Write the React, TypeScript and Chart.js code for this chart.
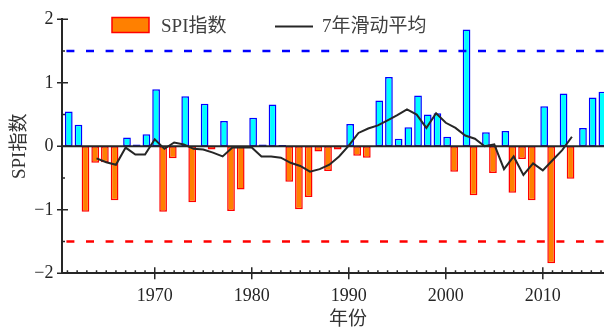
import React, { useEffect, useRef } from 'react';
import { Chart, registerables } from 'chart.js';

Chart.register(...registerables);

const years = [
  1961, 1962, 1963, 1964, 1965, 1966, 1967, 1968, 1969, 1970,
  1971, 1972, 1973, 1974, 1975, 1976, 1977, 1978, 1979, 1980,
  1981, 1982, 1983, 1984, 1985, 1986, 1987, 1988, 1989, 1990,
  1991, 1992, 1993, 1994, 1995, 1996, 1997, 1998, 1999, 2000,
  2001, 2002, 2003, 2004, 2005, 2006, 2007, 2008, 2009, 2010,
  2011, 2012, 2013, 2014, 2015, 2016,
];
const spiValues = [
  0.55, 0.34, -1.03, -0.26, -0.25, -0.85, 0.14, 0.03, 0.19, 0.90,
  -1.03, -0.19, 0.79, -0.88, 0.67, -0.05, 0.40, -1.02, -0.68, 0.45,
  0.03, 0.66, 0.02, -0.56, -0.99, -0.80, -0.08, -0.39, -0.05, 0.35,
  -0.15, -0.18, 0.72, 1.09, 0.12, 0.30, 0.80, 0.50, 0.52, 0.15,
  -0.40, 1.84, -0.77, 0.22, -0.42, 0.24, -0.73, -0.20, -0.85, 0.63,
  -1.84, 0.83, -0.51, 0.29, 0.77, 0.86,
];
const maYears = [
  1964, 1965, 1966, 1967, 1968, 1969, 1970, 1971, 1972, 1973,
  1974, 1975, 1976, 1977, 1978, 1979, 1980, 1981, 1982, 1983,
  1984, 1985, 1986, 1987, 1988, 1989, 1990, 1991, 1992, 1993,
  1994, 1995, 1996, 1997, 1998, 1999, 2000, 2001, 2002, 2003,
  2004, 2005, 2006, 2007, 2008, 2009, 2010, 2011, 2012, 2013,
];
const maValues = [
  -0.19, -0.25, -0.29, -0.02, -0.13, -0.13, 0.11, -0.04, 0.06, 0.03,
  -0.04, -0.05, -0.10, -0.16, -0.02, -0.02, -0.02, -0.16, -0.16, -0.18,
  -0.26, -0.31, -0.40, -0.36, -0.29, -0.16, 0.01, 0.21, 0.28, 0.33,
  0.41, 0.49, 0.58, 0.50, 0.29, 0.52, 0.37, 0.29, 0.17, 0.12,
  0.00, 0.03, -0.36, -0.16, -0.45, -0.27, -0.38, -0.22, -0.06, 0.15,
];
const xMajorTicks = [1970, 1980, 1990, 2000, 2010];
const yMajorTicks = [-2, -1, 0, 1, 2];
const yMinorTicks = [-1.5, -0.5, 0.5, 1.5];
const thresholdWet = 1.5;
const thresholdDry = -1.5;
const xMin = 1960.44;
const xMax = 2019.4;
const yMin = -2;
const yMax = 2;
const legendLabels = ['SPI指数', '7年滑动平均'];
const xTitle = '年份';
const yTitle = 'SPI指数';

const FONT_FAMILY = '"Liberation Serif", "Noto Sans CJK SC", serif';
const AXIS_COLOR = '#262626';
const ORANGE = '#FF8000';
const RED = '#FF0000';
const CYAN = '#00FFFF';
const BLUE = '#0000FF';

const decorPlugin = {
  id: 'decor',
  beforeDraw(chart: any) {
    const { ctx, width, height } = chart;
    ctx.save();
    ctx.fillStyle = '#ffffff';
    ctx.fillRect(0, 0, width, height);
    ctx.restore();
  },
  afterDraw(chart: any) {
    const { ctx, chartArea: a, scales } = chart;
    const xs = scales.x;
    const ys = scales.y;
    ctx.save();
    ctx.strokeStyle = AXIS_COLOR;
    ctx.lineWidth = 1.5;
    ctx.beginPath();
    for (const v of yMajorTicks) {
      const p = ys.getPixelForValue(v);
      ctx.moveTo(a.left - 5, p);
      ctx.lineTo(a.left + 6, p);
    }
    for (const v of yMinorTicks) {
      const p = ys.getPixelForValue(v);
      ctx.moveTo(a.left, p);
      ctx.lineTo(a.left + 3, p);
    }
    for (let yr = Math.ceil(xMin); yr <= Math.floor(xMax); yr++) {
      const p = xs.getPixelForValue(yr);
      ctx.moveTo(p, a.bottom);
      ctx.lineTo(p, a.bottom - 3);
    }
    for (const v of xMajorTicks) {
      const p = xs.getPixelForValue(v);
      ctx.moveTo(p, a.bottom + 6);
      ctx.lineTo(p, a.bottom - 6);
    }
    ctx.stroke();

    // legend
    ctx.fillStyle = ORANGE;
    ctx.strokeStyle = RED;
    ctx.lineWidth = 1.5;
    ctx.fillRect(112, 17.5, 37, 15);
    ctx.strokeRect(112, 17.5, 37, 15);
    ctx.font = `19px ${FONT_FAMILY}`;
    ctx.fillStyle = '#404040';
    ctx.textBaseline = 'middle';
    ctx.textAlign = 'left';
    ctx.fillText(legendLabels[0], 161, 27);
    ctx.strokeStyle = AXIS_COLOR;
    ctx.lineWidth = 2;
    ctx.beginPath();
    ctx.moveTo(275, 26.5);
    ctx.lineTo(313, 26.5);
    ctx.stroke();
    ctx.fillText(legendLabels[1], 322, 27);
    ctx.restore();
  },
};

export default function App() {
  const canvasRef = useRef<HTMLCanvasElement | null>(null);

  useEffect(() => {
    const canvas = canvasRef.current;
    if (!canvas) return;

    const negData = years.map((yr, i) => ({ x: yr, y: spiValues[i] < 0 ? spiValues[i] : null }));
    const posData = years.map((yr, i) => ({ x: yr, y: spiValues[i] >= 0 ? spiValues[i] : null }));
    const maData = maYears.map((yr, i) => ({ x: yr, y: maValues[i] }));

    const chart = new Chart(canvas, {
      type: 'bar',
      data: {
        datasets: [
          {
            type: 'line',
            label: legendLabels[1],
            data: maData,
            borderColor: AXIS_COLOR,
            borderWidth: 2,
            pointRadius: 0,
            tension: 0,
            fill: false,
            order: 0,
          } as any,
          {
            type: 'line',
            label: 'zero',
            data: [{ x: xMin, y: 0 }, { x: xMax, y: 0 }],
            borderColor: AXIS_COLOR,
            borderWidth: 2,
            pointRadius: 0,
            fill: false,
            order: 1,
          } as any,
          {
            type: 'line',
            label: 'wet',
            data: [{ x: xMin, y: thresholdWet }, { x: xMax, y: thresholdWet }],
            borderColor: BLUE,
            borderWidth: 2.5,
            borderDash: [8, 11.6],
            borderDashOffset: 15.2,
            pointRadius: 0,
            fill: false,
            order: 2,
          } as any,
          {
            type: 'line',
            label: 'dry',
            data: [{ x: xMin, y: thresholdDry }, { x: xMax, y: thresholdDry }],
            borderColor: RED,
            borderWidth: 2.5,
            borderDash: [8, 11.6],
            borderDashOffset: 15.2,
            pointRadius: 0,
            fill: false,
            order: 2,
          } as any,
          {
            type: 'bar',
            label: legendLabels[0],
            data: negData,
            backgroundColor: ORANGE,
            borderColor: RED,
            borderWidth: 1.5,
            borderSkipped: false,
            categoryPercentage: 0.557,
            barPercentage: 2.85,
            order: 3,
          } as any,
          {
            type: 'bar',
            label: 'positive',
            data: posData,
            backgroundColor: CYAN,
            borderColor: BLUE,
            borderWidth: 1.5,
            borderSkipped: false,
            categoryPercentage: 0.557,
            barPercentage: 2.85,
            order: 4,
          } as any,
        ],
      },
      options: {
        responsive: false,
        animation: false,
        devicePixelRatio: 1,
        events: [],
        layout: { padding: { top: 19.3, right: 6, left: 0, bottom: 0 } },
        plugins: {
          legend: { display: false },
          tooltip: { enabled: false },
        },
        scales: {
          x: {
            type: 'linear',
            position: 'bottom',
            min: xMin,
            max: xMax,
            offset: false,
            grid: { display: false, drawTicks: false, tickLength: 0 },
            border: { display: true, color: AXIS_COLOR, width: 2 },
            afterBuildTicks: (scale: any) => {
              scale.ticks = xMajorTicks.map((v) => ({ value: v }));
            },
            afterFit: (scale: any) => {
              scale.height = 53.7;
            },
            ticks: {
              color: AXIS_COLOR,
              font: { family: FONT_FAMILY, size: 18 },
              padding: 12,
              maxRotation: 0,
              autoSkip: false,
              callback: (v: any) => String(v),
            },
            title: {
              display: true,
              text: xTitle,
              color: '#333333',
              font: { family: FONT_FAMILY, size: 19, lineHeight: 0.7 },
              padding: { top: 0, bottom: 0 },
            },
          },
          y: {
            type: 'linear',
            position: 'left',
            min: yMin,
            max: yMax,
            grid: { display: false, drawTicks: false, tickLength: 0 },
            border: { display: true, color: AXIS_COLOR, width: 2 },
            afterBuildTicks: (scale: any) => {
              scale.ticks = yMajorTicks.map((v) => ({ value: v }));
            },
            afterFit: (scale: any) => {
              scale.width = 62;
            },
            ticks: {
              color: AXIS_COLOR,
              font: { family: FONT_FAMILY, size: 18 },
              padding: 8.5,
              autoSkip: false,
              callback: (v: any) => (v < 0 ? '\u2212' + Math.abs(v) : String(v)),
            },
            title: {
              display: true,
              text: yTitle,
              color: '#333333',
              font: { family: FONT_FAMILY, size: 19, lineHeight: 1.2 },
              padding: { top: 9, bottom: 0 },
            },
          },
        },
      },
      plugins: [decorPlugin],
    } as any);

    return () => {
      chart.destroy();
    };
  }, []);

  return (
    <div
      style={{
        position: 'fixed',
        left: 0,
        top: 0,
        width: 604,
        height: 327,
        overflow: 'hidden',
        background: '#ffffff',
      }}
    >
      <canvas ref={canvasRef} width={640} height={327} style={{ display: 'block', width: 640, height: 327 }} />
    </div>
  );
}
